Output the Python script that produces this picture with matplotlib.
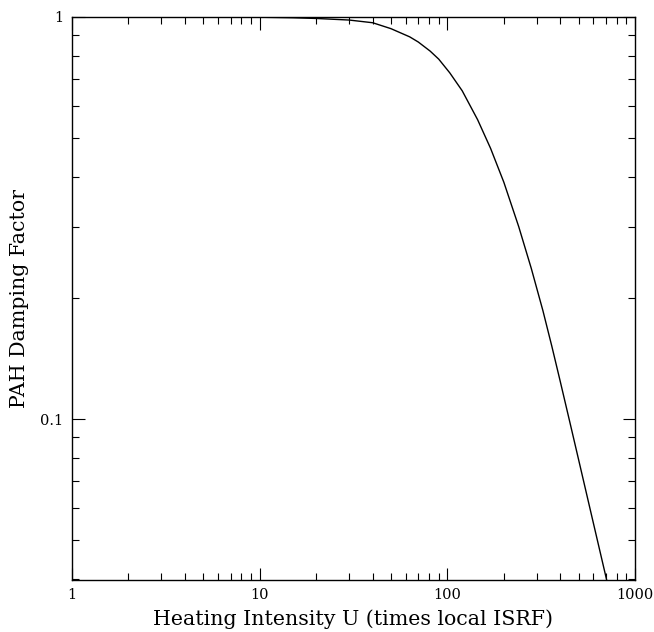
import matplotlib
matplotlib.use("Agg")
import matplotlib.pyplot as plt
from matplotlib.ticker import FixedLocator, NullFormatter

# heating intensity U and damping factor
U = [1.0, 5.0, 10.0, 15.0, 20.0, 30.0, 40.0, 50.0, 63.0, 70.0, 81.0, 90.0, 103.0, 120.0,
     145.0, 170.0, 200.0, 240.0, 280.0, 323.0, 360.0, 398.0, 450.0, 500.0, 600.0, 706.0]
damp = [1.0, 1.0, 0.998, 0.995, 0.991, 0.982, 0.967, 0.935, 0.892, 0.866, 0.822, 0.785, 0.726, 0.655,
        0.555, 0.471, 0.388, 0.301, 0.237, 0.186, 0.152, 0.125, 0.098, 0.0794, 0.0551, 0.0398]

xticks = [1, 10, 100, 1000]
xlabels = ["1", "10", "100", "1000"]
yticks = [0.1, 1]
ylabels = ["0.1", "1"]

plt.rcParams["font.family"] = "DejaVu Serif"

fig = plt.figure(figsize=(6.54, 6.32), dpi=100)
ax = fig.add_axes([0.110, 0.0823, 0.861, 0.891])

ax.plot(U, damp, color="k", linewidth=1.0)

ax.set_xscale("log")
ax.set_yscale("log")
ax.set_xlim(1, 1000)
ax.set_ylim(0.0398, 1)

ax.xaxis.set_major_locator(FixedLocator(xticks))
ax.set_xticklabels(xlabels)
ax.xaxis.set_minor_locator(FixedLocator([m * d for d in [1, 10, 100] for m in range(2, 10)]))
ax.xaxis.set_minor_formatter(NullFormatter())
ax.yaxis.set_major_locator(FixedLocator(yticks))
ax.set_yticklabels(ylabels)
ax.yaxis.set_minor_locator(FixedLocator([m * d for d in [0.01, 0.1] for m in range(2, 10)]))
ax.yaxis.set_minor_formatter(NullFormatter())

ax.tick_params(which="both", direction="in", top=True, right=True, labelsize=10.5, width=0.8)
ax.tick_params(which="major", length=9, pad=6)
ax.tick_params(which="minor", length=5)
for s in ax.spines.values():
    s.set_linewidth(1.0)

ax.set_xlabel("Heating Intensity U (times local ISRF)", fontsize=14.8, labelpad=5)
ax.set_ylabel("PAH Damping Factor", fontsize=14.8, labelpad=8)

fig.savefig("out.png", dpi=100)
